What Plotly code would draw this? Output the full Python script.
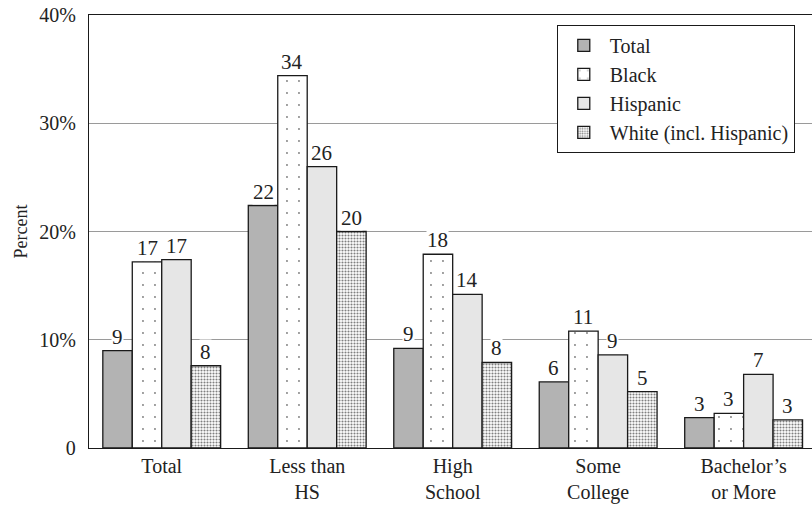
import plotly.graph_objects as go

# Share of people in each education group, by race/ethnicity (percent)
categories = ["Total", "Less than<br>HS", "High<br>School", "Some<br>College", "Bachelor’s<br>or More"]
series_names = ["Total", "Black", "Hispanic", "White (incl. Hispanic)"]
total = [9.0, 22.4, 9.2, 6.1, 2.8]
black = [17.2, 34.4, 17.9, 10.8, 3.2]
hispanic = [17.4, 26.0, 14.2, 8.6, 6.8]
white = [7.6, 20.0, 7.9, 5.2, 2.6]
y_tick_vals = [0, 10, 20, 30, 40]
y_tick_text = ["0", "10%", "20%", "30%", "40%"]

series_values = [total, black, hispanic, white]
FONT = "'Liberation Serif', 'DejaVu Serif', 'Times New Roman', serif"
TEXT = "#222222"
EDGE = "#1a1a1a"

styles = [
    dict(color="#b3b3b3"),
    dict(color="white", pattern=dict(shape=".", size=12, solidity=0.02,
                                     fgcolor="#000000", bgcolor="white", fillmode="overlay")),
    dict(color="#e6e6e6"),
    dict(color="white", pattern=dict(shape=".", size=3, solidity=0.4,
                                     fgcolor="#000000", bgcolor="white", fillmode="overlay")),
]

BARGAP = 0.19
x_idx = list(range(len(categories)))

fig = go.Figure()
for k, (name, vals, st) in enumerate(zip(series_names, series_values, styles)):
    fig.add_trace(go.Bar(
        name=name, x=x_idx, y=vals, legendgroup=name,
        marker=dict(line=dict(color=EDGE, width=1.3), **st),
    ))

# value labels above each bar, on a white box so gridlines pass behind them
bar_w = (1 - BARGAP) / len(series_names)
for k, vals in enumerate(series_values):
    off = (k - (len(series_names) - 1) / 2) * bar_w
    for i, v in enumerate(vals):
        fig.add_annotation(
            x=i + off, y=v, text=f"{v:.0f}", showarrow=False,
            yanchor="bottom", yshift=1, bgcolor="white", borderpad=0,
            font=dict(family=FONT, size=21, color=TEXT),
        )

fig.update_layout(
    width=812, height=508,
    margin=dict(l=89, r=0, t=15, b=60),
    paper_bgcolor="white", plot_bgcolor="white",
    barmode="group", bargap=BARGAP, bargroupgap=0,
    font=dict(family=FONT, color=TEXT),
    showlegend=True,
    legend=dict(
        x=0.647, y=0.977, xanchor="left", yanchor="top",
        bordercolor=EDGE, borderwidth=1, bgcolor="white",
        font=dict(family=FONT, size=20, color=TEXT),
        itemwidth=42, tracegroupgap=4, traceorder="normal",
    ),
    xaxis=dict(
        tickmode="array", tickvals=x_idx, ticktext=categories,
        range=[-0.5, 4.47], showgrid=False, zeroline=False,
        showline=True, linecolor=EDGE, linewidth=1.3, mirror=True,
        ticks="", tickfont=dict(family=FONT, size=20, color=TEXT),
    ),
    yaxis=dict(
        range=[0, 40], tickmode="array", tickvals=y_tick_vals, ticktext=y_tick_text,
        showgrid=True, gridcolor="#9a9a9a", gridwidth=1, zeroline=False,
        showline=True, linecolor=EDGE, linewidth=1.3,
        ticks="", ticklabelstandoff=8,
        tickfont=dict(family=FONT, size=20, color=TEXT),
        title=dict(text="Percent", font=dict(family=FONT, size=18, color=TEXT), standoff=6),
    ),
)

fig.write_html("out.html")
